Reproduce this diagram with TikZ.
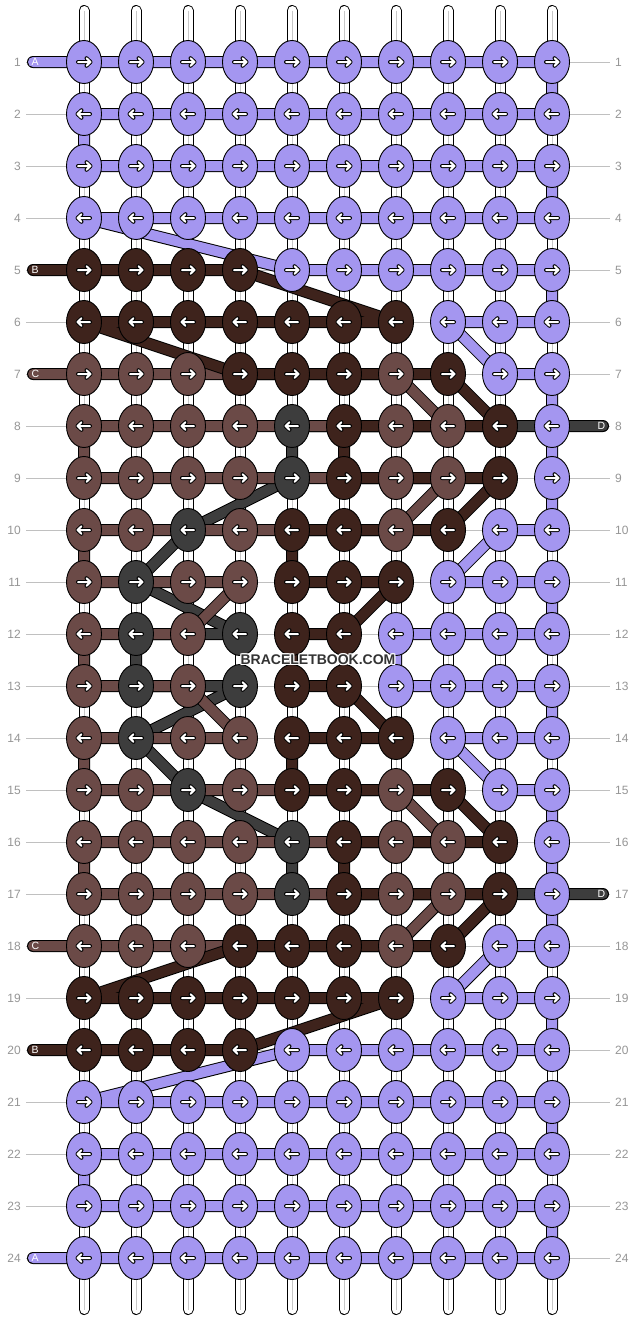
\documentclass[tikz,border=0pt]{standalone}
\usepackage{fontspec}
\setmainfont{Liberation Sans}
\usetikzlibrary{shapes.geometric}
\pgfdeclarelayer{back}
\pgfdeclarelayer{mid}
\pgfsetlayers{back,mid,main}
\definecolor{cP}{RGB}{164,150,240}
\definecolor{cB}{RGB}{62,35,28}
\definecolor{cC}{RGB}{107,74,71}
\definecolor{cD}{RGB}{61,61,61}
\definecolor{numgray}{RGB}{150,150,150}
\definecolor{linegray}{RGB}{192,192,192}
\tikzset{
  knot/.style={ellipse, draw=black, line width=0.9pt, minimum width=35pt, minimum height=43pt, inner sep=0pt},
  strand/.style={draw=black, line width=1pt, double=#1, double distance=10pt, line cap=round, line join=round},
  tube/.style={draw=black, line width=1pt, double=white, double distance=9pt, line cap=round},
  tubecore/.style={draw=black!22, line width=1pt},
  rowline/.style={draw=linegray, line width=0.8pt},
  rownum/.style={text=numgray, font=\fontsize{12}{14}\selectfont, inner sep=0pt},
  endtag/.style={text=white, font=\fontsize{10.5}{12}\selectfont, inner sep=0pt},
  wmark/.style={font=\bfseries\fontsize{14}{16}\selectfont, inner sep=0pt},
  knotarrow/.pic={
    \draw[line width=4pt, line cap=round, line join=round] (-6,0) -- (6.5,0) (2.5,-3.8) -- (6.5,0) -- (2.5,3.8);
    \draw[white, line width=2pt, line cap=round, line join=round] (-6,0) -- (6.5,0) (2.5,-3.8) -- (6.5,0) -- (2.5,3.8);
  },
}
\begin{document}
\begin{tikzpicture}[x=1pt, y=-1pt]
  \useasboundingbox (0,0) rectangle (636,1320);
  \begin{pgfonlayer}{back}
    \fill[white] (0,0) rectangle (636,1320);
  \end{pgfonlayer}

  \foreach \r in {1,...,24}{
    \node[rownum, anchor=east] (lnum-\r) at (21,{10+52*\r}) {\r};
    \node[rownum, anchor=west] (rnum-\r) at (615,{10+52*\r}) {\r};
    \begin{pgfonlayer}{back}
      \draw[rowline] ([xshift=5pt]lnum-\r.east) -- ([xshift=-5pt]rnum-\r.west);
    \end{pgfonlayer}
  }

  \begin{pgfonlayer}{back}
    \foreach \col in {1,...,10}{
      \coordinate (top-\col) at ({32+52*\col},10.5);
      \coordinate (bot-\col) at ({32+52*\col},1309.5);
      \draw[tube] (top-\col) -- (bot-\col);
      \draw[tubecore] (top-\col) -- (bot-\col);
    }
  \end{pgfonlayer}

  \foreach \r/\rowcols in {
    1/{P,P,P,P,P,P,P,P,P,P}, 2/{P,P,P,P,P,P,P,P,P,P},
    3/{P,P,P,P,P,P,P,P,P,P}, 4/{P,P,P,P,P,P,P,P,P,P},
    5/{B,B,B,B,P,P,P,P,P,P}, 6/{B,B,B,B,B,B,B,P,P,P},
    7/{C,C,C,B,B,B,C,B,P,P}, 8/{C,C,C,C,D,B,C,C,B,P},
    9/{C,C,C,C,D,B,C,C,B,P}, 10/{C,C,D,C,B,B,C,B,P,P},
    11/{C,D,C,C,B,B,B,P,P,P}, 12/{C,D,C,D,B,B,P,P,P,P},
    13/{C,D,C,D,B,B,P,P,P,P}, 14/{C,D,C,C,B,B,B,P,P,P},
    15/{C,C,D,C,B,B,C,B,P,P}, 16/{C,C,C,C,D,B,C,C,B,P},
    17/{C,C,C,C,D,B,C,C,B,P}, 18/{C,C,C,B,B,B,C,B,P,P},
    19/{B,B,B,B,B,B,B,P,P,P}, 20/{B,B,B,B,P,P,P,P,P,P},
    21/{P,P,P,P,P,P,P,P,P,P}, 22/{P,P,P,P,P,P,P,P,P,P},
    23/{P,P,P,P,P,P,P,P,P,P}, 24/{P,P,P,P,P,P,P,P,P,P}}{
    \pgfmathsetmacro\arrdir{1-2*mod(\r+1,2)}
    \foreach \k [count=\col] in \rowcols {
      \node[knot, fill=c\k] (k-\r-\col) at ({32+52*\col},{10+52*\r}) {};
      \pic[xscale=\arrdir] at (k-\r-\col) {knotarrow};
    }
  }

  \begin{pgfonlayer}{mid}
    \coordinate (endA1) at (33,62);
    \coordinate (endA24) at (33,1258);
    \coordinate (endB5) at (33,270);
    \coordinate (endB20) at (33,1050);
    \coordinate (endC7) at (33,374);
    \coordinate (endC18) at (33,946);
    \coordinate (endD8) at (603,426);
    \coordinate (endD17) at (603,894);
    \draw[strand=cP] (endA1) \foreach \p in {1-1,1-10,2-10,2-1,3-1,3-10,4-10,4-1,5-5,5-10,6-10,6-8,7-9,7-10,8-10,9-10,10-10,10-9,11-8,11-10,12-10,12-7,13-7,13-10,14-10,14-8,15-9,15-10,16-10,17-10,18-10,18-9,19-8,19-10,20-10,20-5,21-1,21-10,22-10,22-1,23-1,23-10,24-10,24-1} { -- (k-\p.center) } -- (endA24);
    \draw[strand=cD] (endD8) \foreach \p in {8-5,9-5,10-3,11-2,12-4,12-2,13-2,13-4,14-2,15-3,16-5,17-5} { -- (k-\p.center) } -- (endD17);
    \draw[strand=cC] (endC7) \foreach \p in {7-1,7-7,8-8,8-1,9-1,9-8,10-7,10-1,11-1,11-4,12-3,12-1,13-1,13-3,14-4,14-1,15-1,15-7,16-8,16-1,17-1,17-8,18-7,18-1} { -- (k-\p.center) } -- (endC18);
    \draw[strand=cB] (endB5) \foreach \p in {5-1,5-4,6-7,6-1,7-4,7-8,8-9,8-6,9-6,9-9,10-8,10-5,11-5,11-7,12-6,12-5,13-5,13-6,14-7,14-5,15-5,15-8,16-9,16-6,17-6,17-9,18-8,18-4,19-1,19-7,20-4,20-1} { -- (k-\p.center) } -- (endB20);
  \end{pgfonlayer}

  \node[endtag, anchor=west] (tagA1) at (31.5,62) {A};
  \node[endtag, anchor=west] (tagB5) at (31.5,270) {B};
  \node[endtag, anchor=west] (tagC7) at (31.5,374) {C};
  \node[endtag, anchor=east] (tagD8) at (605.5,426) {D};
  \node[endtag, anchor=east] (tagD17) at (605.5,894) {D};
  \node[endtag, anchor=west] (tagC18) at (31.5,946) {C};
  \node[endtag, anchor=west] (tagB20) at (31.5,1050) {B};
  \node[endtag, anchor=west] (tagA24) at (31.5,1258) {A};

  \foreach \dx/\dy [count=\i] in {1/0,-1/0,0/1,0/-1,1/1,1/-1,-1/1,-1/-1}
    \node[wmark, text=white] (wmhalo-\i) at ({318+\dx},{660+\dy}) {BRACELETBOOK.COM};
  \node[wmark, text=black!80] (wm) at (318,660) {BRACELETBOOK.COM};
\end{tikzpicture}
\end{document}
